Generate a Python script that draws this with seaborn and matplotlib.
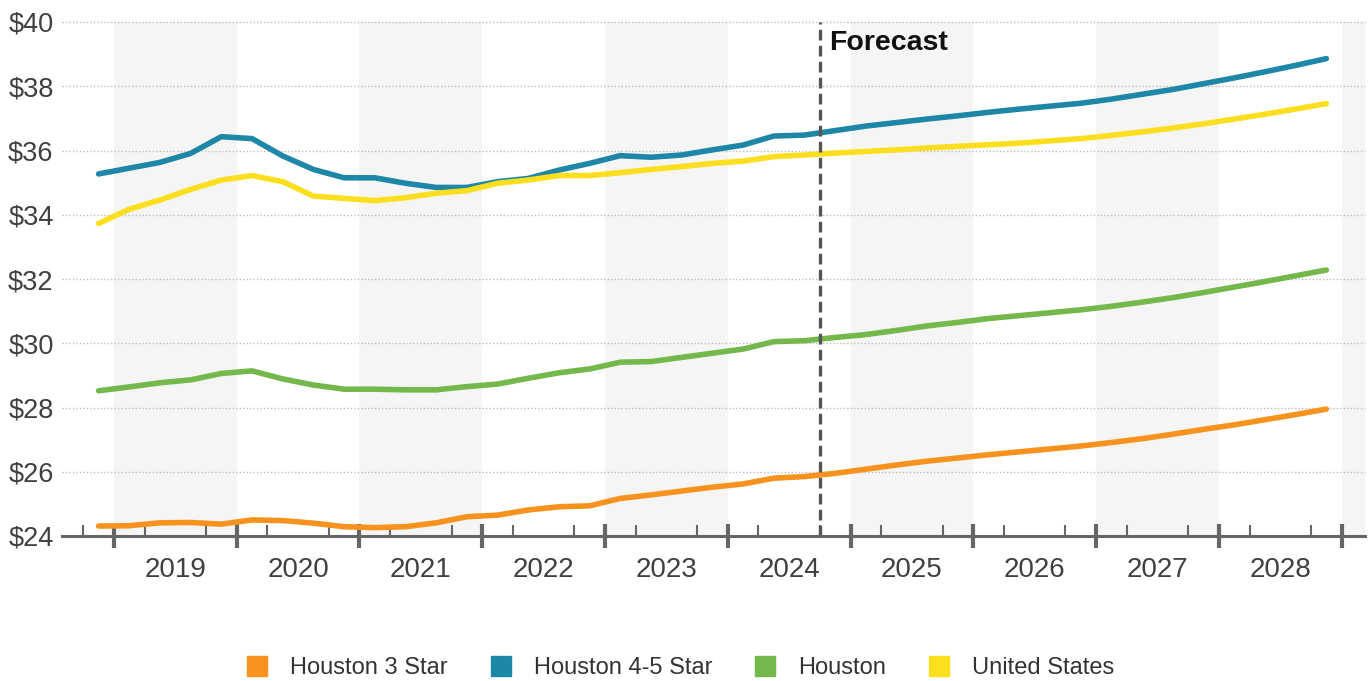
import matplotlib
matplotlib.use("Agg")
import matplotlib.pyplot as plt
from matplotlib.lines import Line2D
from matplotlib.ticker import FixedLocator, FuncFormatter, NullFormatter
import numpy as np
import pandas as pd
import seaborn as sns

# Quarterly asking rent per SF, 2018 Q4 through 2028 Q4
quarters = pd.period_range("2018Q4", "2028Q4", freq="Q")

houston_3_star = [
    24.31, 24.32, 24.41, 24.42, 24.37, 24.50, 24.48, 24.40, 24.29, 24.26,
    24.29, 24.41, 24.60, 24.65, 24.81, 24.91, 24.94, 25.17, 25.28, 25.40,
    25.52, 25.62, 25.80, 25.85, 25.95, 26.08, 26.21, 26.33, 26.43, 26.53,
    26.62, 26.71, 26.80, 26.91, 27.03, 27.17, 27.32, 27.46, 27.62, 27.78,
    27.95,
]
houston_45_star = [
    35.27, 35.45, 35.63, 35.91, 36.43, 36.37, 35.83, 35.41, 35.15, 35.15,
    34.98, 34.85, 34.85, 35.03, 35.13, 35.39, 35.60, 35.84, 35.79, 35.86,
    36.02, 36.17, 36.45, 36.48, 36.62, 36.76, 36.87, 36.98, 37.08, 37.19,
    37.29, 37.38, 37.47, 37.60, 37.75, 37.90, 38.08, 38.26, 38.45, 38.65,
    38.86,
]
houston = [
    28.52, 28.64, 28.77, 28.86, 29.06, 29.14, 28.89, 28.70, 28.57, 28.57,
    28.55, 28.55, 28.65, 28.73, 28.91, 29.08, 29.20, 29.41, 29.43, 29.56,
    29.69, 29.82, 30.05, 30.08, 30.18, 30.27, 30.40, 30.54, 30.65, 30.77,
    30.86, 30.95, 31.04, 31.15, 31.28, 31.42, 31.58, 31.75, 31.92, 32.10,
    32.28,
]
united_states = [
    33.73, 34.17, 34.46, 34.79, 35.08, 35.22, 35.03, 34.58, 34.51, 34.44,
    34.53, 34.67, 34.75, 34.98, 35.08, 35.22, 35.22, 35.31, 35.41, 35.50,
    35.60, 35.67, 35.81, 35.86, 35.92, 35.97, 36.02, 36.08, 36.13, 36.18,
    36.23, 36.30, 36.37, 36.47, 36.58, 36.70, 36.83, 36.98, 37.13, 37.29,
    37.46,
]

series_names = ["Houston 3 Star", "Houston 4-5 Star", "Houston", "United States"]
series_colors = ["#F7921E", "#1E86A6", "#74B74A", "#FBDF1E"]
year_labels = list(range(2019, 2029))
forecast_start = "2024Q4"
y_ticks = [24, 26, 28, 30, 32, 34, 36, 38, 40]

# Place each quarter at its midpoint on a decimal-year axis
def quarter_pos(p):
    return p.year + (p.quarter - 1) / 4 + 0.125

xpos = np.array([quarter_pos(q) for q in quarters])
fc = pd.Period(forecast_start, freq="Q")
forecast_x = fc.year + (fc.quarter - 1) / 4

frames = []
for name, vals in zip(series_names, [houston_3_star, houston_45_star, houston, united_states]):
    frames.append(pd.DataFrame({"x": xpos, "rent": vals, "series": name}))
df = pd.concat(frames, ignore_index=True)

sns.set_theme(style="white")
plt.rcParams["font.family"] = ["Liberation Sans", "DejaVu Sans"]

fig = plt.figure(figsize=(13.69, 6.81), dpi=100)
ax = fig.add_axes([62 / 1369, 1 - 536 / 681, (1365 - 62) / 1369, (536 - 22) / 681])

x_min, x_max = 2018.577, 2029.19
ax.set_xlim(x_min, x_max)
ax.set_ylim(24, 40)

# Alternating year shading
for yr in range(2019, 2030, 2):
    ax.axvspan(yr, min(yr + 1, x_max), color="#F5F5F5", lw=0, zorder=0)

# Dotted horizontal gridlines
for yv in y_ticks[1:]:
    ax.axhline(yv, color="#BDBDBD", lw=1.0, ls=(0, (1, 1.5)), zorder=1, clip_on=False)

palette = dict(zip(series_names, series_colors))
sns.lineplot(data=df, x="x", y="rent", hue="series", hue_order=series_names,
             palette=palette, linewidth=4.0, ax=ax, legend=False, zorder=3,
             solid_capstyle="round", solid_joinstyle="round")

# Forecast divider
ax.axvline(forecast_x, color="#555555", lw=2.4, ls=(0, (3.2, 1.6)), zorder=4)
ax.annotate("Forecast", xy=(forecast_x, 40), xycoords="data",
            xytext=(7, -15), textcoords="offset points",
            fontsize=20.5, fontweight="bold", color="#111111",
            ha="left", va="center")

# Y axis
ax.set_yticks(y_ticks)
ax.yaxis.set_major_formatter(FuncFormatter(lambda v, _: f"${v:.0f}"))
ax.tick_params(axis="y", length=0, pad=6, labelsize=19.5, labelcolor="#404040")

# X axis: year labels centred, quarter ticks inward, year boundaries crossing
ax.xaxis.set_major_locator(FixedLocator([y + 0.5 for y in year_labels]))
ax.set_xticklabels([str(y) for y in year_labels])
ax.tick_params(axis="x", which="major", length=0, pad=15, labelsize=20,
               labelcolor="#404040")
quarter_ticks = np.arange(2018.75, 2029.01, 0.25)
ax.xaxis.set_minor_locator(FixedLocator(quarter_ticks))
ax.xaxis.set_minor_formatter(NullFormatter())
ax.tick_params(axis="x", which="minor", direction="in", length=8, width=1.5,
               color="#666666", bottom=True)

sec = ax.secondary_xaxis("bottom")
sec.set_xticks(list(range(2019, 2030)))
sec.set_xticklabels([])
sec.tick_params(axis="x", direction="inout", length=17, width=3, color="#666666")
sec.spines["bottom"].set_visible(False)

for side in ["top", "right", "left"]:
    ax.spines[side].set_visible(False)
ax.spines["bottom"].set_color("#666666")
ax.spines["bottom"].set_linewidth(2.2)
ax.spines["bottom"].set_zorder(5)
ax.set_xlabel("")
ax.set_ylabel("")

handles = [Line2D([], [], marker="s", linestyle="", markersize=15,
                  markerfacecolor=c, markeredgecolor=c) for c in series_colors]
fig.legend(handles, series_names, loc="center", bbox_to_anchor=(0.497, 0.019),
           ncol=4, frameon=False, fontsize=17, handlelength=0.9,
           handletextpad=0.95, columnspacing=1.8, labelcolor="#333333")

fig.savefig("out.png", dpi=100)
